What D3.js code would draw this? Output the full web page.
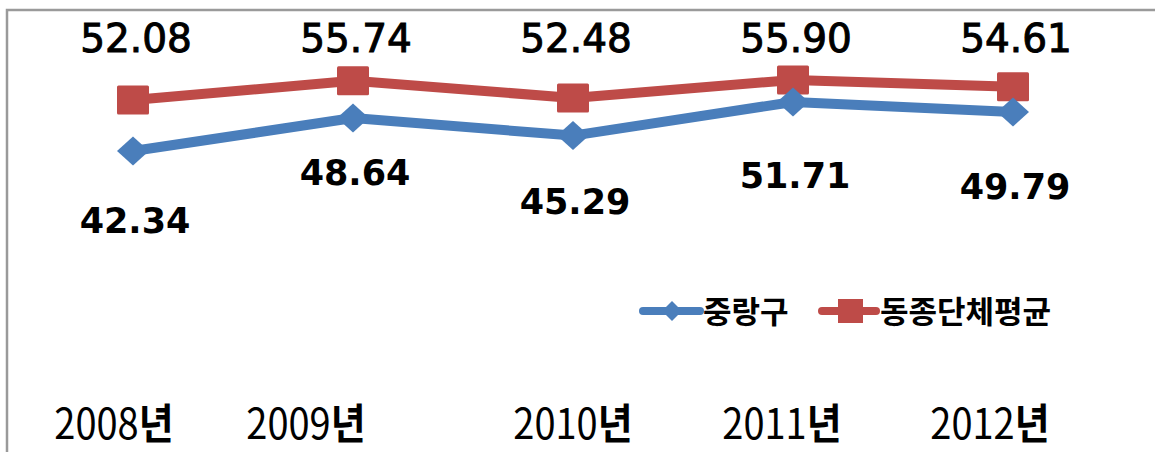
<!DOCTYPE html>
<html>
<head>
<meta charset="utf-8">
<script src="https://cdn.jsdelivr.net/npm/d3@7"></script>
<style>
  body { margin: 0; background: #fff; }
  svg { display: block; }
</style>
</head>
<body>
<script>
// data
const years = ["2008년", "2009년", "2010년", "2011년", "2012년"];
const jungnang = [42.34, 48.64, 45.29, 51.71, 49.79];
const peerAvg = [52.08, 55.74, 52.48, 55.90, 54.61];
const seriesNames = ["중랑구", "동종단체평균"];

// label nudges (layout only)
const blueLabelDy = [82, 67, 78, 86, 87];
const tickDx = [-19, -47, 0, -11, -23];

const w = 1155, h = 452;
const blue = "#4a7ebb", red = "#be4b48";

const svg = d3.select("body").append("svg")
  .attr("width", w).attr("height", h);

// chart frame (cropped at right/bottom)
svg.append("path")
  .attr("d", `M7,${h + 5} L7,10 L${w + 5},10`)
  .attr("fill", "none").attr("stroke", "#9a9a9a").attr("stroke-width", 2.5);

const x = d3.scalePoint().domain(years).range([133, 1013]);
const y = d3.scaleLinear().domain([0, 60]).range([373, 58.5]);

const line = d3.line().x((d, i) => x(years[i])).y(d => y(d));

function diamond(g, cx, cy, rx, ry, color) {
  g.append("path")
    .attr("d", `M${cx - rx},${cy} L${cx},${cy - ry} L${cx + rx},${cy} L${cx},${cy + ry} Z`)
    .attr("fill", color);
}

// red line
svg.append("path").datum(peerAvg)
  .attr("d", line).attr("fill", "none")
  .attr("stroke", red).attr("stroke-width", 10).attr("stroke-linejoin", "round");
// blue line
svg.append("path").datum(jungnang)
  .attr("d", line).attr("fill", "none")
  .attr("stroke", blue).attr("stroke-width", 10).attr("stroke-linejoin", "round");

// markers
svg.selectAll("rect.m").data(peerAvg).enter().append("rect")
  .attr("class", "m")
  .attr("x", (d, i) => x(years[i]) - 16).attr("y", d => y(d) - 14.5)
  .attr("width", 32).attr("height", 29).attr("rx", 1.5)
  .attr("fill", red);

const dg = svg.append("g");
jungnang.forEach((d, i) => diamond(dg, x(years[i]), y(d), 16, 14.5, blue));

// data labels
svg.selectAll("text.rl").data(peerAvg).enter().append("text")
  .attr("class", "rl")
  .attr("x", (d, i) => x(years[i]) + 3).attr("y", 52)
  .attr("text-anchor", "middle")
  .attr("font-family", "DejaVu Sans").attr("font-size", 39)
  .attr("fill", "#000").attr("stroke", "#000").attr("stroke-width", 1)
  .text(d => d.toFixed(2));

svg.selectAll("text.bl").data(jungnang).enter().append("text")
  .attr("class", "bl")
  .attr("x", (d, i) => x(years[i]) + 2).attr("y", (d, i) => y(d) + blueLabelDy[i])
  .attr("text-anchor", "middle")
  .attr("font-family", "DejaVu Sans").attr("font-weight", "bold").attr("font-size", 35)
  .attr("fill", "#000")
  .text(d => d.toFixed(2));

// category labels
const tk = svg.selectAll("text.tk").data(years).enter().append("text")
  .attr("class", "tk")
  .attr("transform", (d, i) => `translate(${x(d) + tickDx[i]},439) scale(1,1.12)`)
  .attr("text-anchor", "middle")
  .attr("font-family", "'Noto Sans CJK KR'").attr("font-size", 38)
  .attr("fill", "#000");
tk.append("tspan").text(d => d.slice(0, 4));
tk.append("tspan").attr("font-weight", "bold").text(d => d.slice(4));

// legend
const lg = svg.append("g");
lg.append("line").attr("x1", 643).attr("x2", 700).attr("y1", 311).attr("y2", 311)
  .attr("stroke", blue).attr("stroke-width", 8).attr("stroke-linecap", "round");
diamond(lg, 672, 311, 10, 10, blue);
lg.append("text").attr("x", 703).attr("y", 323)
  .attr("font-family", "'Noto Sans CJK KR'").attr("font-weight", "bold").attr("font-size", 31)
  .text(seriesNames[0]);

lg.append("line").attr("x1", 822).attr("x2", 876).attr("y1", 311).attr("y2", 311)
  .attr("stroke", red).attr("stroke-width", 8).attr("stroke-linecap", "round");
lg.append("rect").attr("x", 838).attr("y", 299).attr("width", 25).attr("height", 24)
  .attr("fill", red);
lg.append("text").attr("x", 880).attr("y", 323)
  .attr("font-family", "'Noto Sans CJK KR'").attr("font-weight", "bold").attr("font-size", 31)
  .text(seriesNames[1]);
</script>
</body>
</html>
